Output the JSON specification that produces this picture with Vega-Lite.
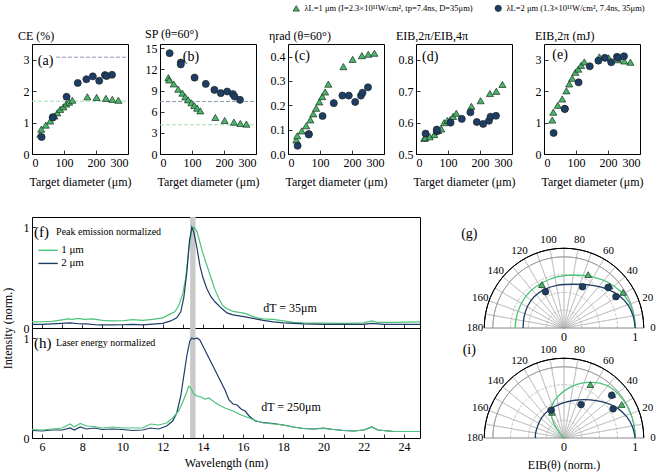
{
"$schema": "https://vega.github.io/schema/vega-lite/v6.json",
"padding": {"left": 0, "top": 4, "right": 0, "bottom": 0},
"config": {
  "font": "Liberation Serif",
  "view": {"stroke": "#000", "strokeWidth": 1},
  "axis": {"grid": false, "domain": false, "tickSize": -4, "tickColor": "#000", "tickWidth": 0.8, "labelFontSize": 12, "labelColor": "#000", "labelPadding": 7, "titleFontSize": 12, "titleFontWeight": "normal", "titleColor": "#000"},
  "title": {"fontSize": 12, "fontWeight": "normal", "color": "#000"}
},
"datasets": {
  "refs": [
    {"p": "a", "laser": "2 μm", "v": 3.08, "d0": 75, "d1": 300},
    {"p": "a", "laser": "1 μm", "v": 1.68, "d0": 0, "d1": 300},
    {"p": "b", "laser": "2 μm", "v": 7.44, "d0": 0, "d1": 300},
    {"p": "b", "laser": "1 μm", "v": 4.14, "d0": 0, "d1": 300}
  ],
  "a": [
    {"laser":"1 μm","d":26,"v":0.63},{"laser":"1 μm","d":29,"v":0.79},{"laser":"1 μm","d":43,"v":0.92},{"laser":"1 μm","d":57,"v":1.05},{"laser":"1 μm","d":70,"v":1.21},{"laser":"1 μm","d":79,"v":1.31},{"laser":"1 μm","d":88,"v":1.42},{"laser":"1 μm","d":98,"v":1.5},{"laser":"1 μm","d":107,"v":1.59},{"laser":"1 μm","d":116,"v":1.65},{"laser":"1 μm","d":126,"v":1.71},{"laser":"1 μm","d":173,"v":1.82},{"laser":"1 μm","d":202,"v":1.8},{"laser":"1 μm","d":231,"v":1.77},{"laser":"1 μm","d":251,"v":1.74},{"laser":"1 μm","d":270,"v":1.71},
    {"laser":"2 μm","d":30,"v":0.54},{"laser":"2 μm","d":65,"v":1.17},{"laser":"2 μm","d":65,"v":1.16},{"laser":"2 μm","d":108,"v":1.82},{"laser":"2 μm","d":143,"v":2.26},{"laser":"2 μm","d":170,"v":2.38},{"laser":"2 μm","d":190,"v":2.47},{"laser":"2 μm","d":210,"v":2.33},{"laser":"2 μm","d":228,"v":2.51},{"laser":"2 μm","d":233,"v":2.48},{"laser":"2 μm","d":250,"v":2.52}
  ],
  "b": [
    {"laser":"1 μm","d":26,"v":10.83},{"laser":"1 μm","d":29,"v":10.5},{"laser":"1 μm","d":43,"v":9.94},{"laser":"1 μm","d":57,"v":9.19},{"laser":"1 μm","d":70,"v":8.63},{"laser":"1 μm","d":79,"v":8.1},{"laser":"1 μm","d":88,"v":7.68},{"laser":"1 μm","d":98,"v":7.26},{"laser":"1 μm","d":107,"v":6.87},{"laser":"1 μm","d":116,"v":6.5},{"laser":"1 μm","d":126,"v":6.12},{"laser":"1 μm","d":173,"v":5.18},{"laser":"1 μm","d":202,"v":4.75},{"laser":"1 μm","d":231,"v":4.52},{"laser":"1 μm","d":251,"v":4.33},{"laser":"1 μm","d":270,"v":4.24},
    {"laser":"2 μm","d":30,"v":14.3},{"laser":"2 μm","d":65,"v":12.96},{"laser":"2 μm","d":65,"v":12.7},{"laser":"2 μm","d":108,"v":10.83},{"laser":"2 μm","d":143,"v":9.94},{"laser":"2 μm","d":170,"v":9.09},{"laser":"2 μm","d":190,"v":8.63},{"laser":"2 μm","d":210,"v":8.86},{"laser":"2 μm","d":228,"v":8.49},{"laser":"2 μm","d":233,"v":8.15},{"laser":"2 μm","d":250,"v":7.68}
  ],
  "c": [
    {"laser":"1 μm","d":26,"v":0.058},{"laser":"1 μm","d":29,"v":0.075},{"laser":"1 μm","d":43,"v":0.095},{"laser":"1 μm","d":57,"v":0.116},{"laser":"1 μm","d":70,"v":0.14},{"laser":"1 μm","d":79,"v":0.165},{"laser":"1 μm","d":88,"v":0.188},{"laser":"1 μm","d":98,"v":0.214},{"laser":"1 μm","d":107,"v":0.236},{"laser":"1 μm","d":116,"v":0.255},{"laser":"1 μm","d":126,"v":0.287},{"laser":"1 μm","d":173,"v":0.359},{"laser":"1 μm","d":202,"v":0.389},{"laser":"1 μm","d":231,"v":0.404},{"laser":"1 μm","d":251,"v":0.41},{"laser":"1 μm","d":270,"v":0.414},
    {"laser":"2 μm","d":30,"v":0.034},{"laser":"2 μm","d":65,"v":0.082},{"laser":"2 μm","d":65,"v":0.08},{"laser":"2 μm","d":108,"v":0.156},{"laser":"2 μm","d":143,"v":0.209},{"laser":"2 μm","d":170,"v":0.24},{"laser":"2 μm","d":190,"v":0.24},{"laser":"2 μm","d":210,"v":0.214},{"laser":"2 μm","d":228,"v":0.24},{"laser":"2 μm","d":233,"v":0.252},{"laser":"2 μm","d":250,"v":0.274}
  ],
  "d": [
    {"laser":"1 μm","d":26,"v":0.55},{"laser":"1 μm","d":29,"v":0.552},{"laser":"1 μm","d":43,"v":0.555},{"laser":"1 μm","d":57,"v":0.562},{"laser":"1 μm","d":70,"v":0.575},{"laser":"1 μm","d":79,"v":0.58},{"laser":"1 μm","d":88,"v":0.6},{"laser":"1 μm","d":98,"v":0.607},{"laser":"1 μm","d":107,"v":0.61},{"laser":"1 μm","d":116,"v":0.62},{"laser":"1 μm","d":126,"v":0.63},{"laser":"1 μm","d":173,"v":0.652},{"laser":"1 μm","d":202,"v":0.67},{"laser":"1 μm","d":231,"v":0.693},{"laser":"1 μm","d":251,"v":0.7},{"laser":"1 μm","d":270,"v":0.722},
    {"laser":"2 μm","d":30,"v":0.565},{"laser":"2 μm","d":65,"v":0.572},{"laser":"2 μm","d":65,"v":0.578},{"laser":"2 μm","d":108,"v":0.6},{"laser":"2 μm","d":143,"v":0.612},{"laser":"2 μm","d":170,"v":0.633},{"laser":"2 μm","d":190,"v":0.602},{"laser":"2 μm","d":210,"v":0.596},{"laser":"2 μm","d":228,"v":0.606},{"laser":"2 μm","d":233,"v":0.619},{"laser":"2 μm","d":250,"v":0.622}
  ],
  "e": [
    {"laser":"1 μm","d":26,"v":1.08},{"laser":"1 μm","d":29,"v":1.33},{"laser":"1 μm","d":43,"v":1.55},{"laser":"1 μm","d":57,"v":1.75},{"laser":"1 μm","d":70,"v":2.01},{"laser":"1 μm","d":79,"v":2.23},{"laser":"1 μm","d":88,"v":2.41},{"laser":"1 μm","d":98,"v":2.6},{"laser":"1 μm","d":107,"v":2.7},{"laser":"1 μm","d":116,"v":2.82},{"laser":"1 μm","d":126,"v":2.93},{"laser":"1 μm","d":173,"v":3.09},{"laser":"1 μm","d":202,"v":3.06},{"laser":"1 μm","d":231,"v":3.0},{"laser":"1 μm","d":251,"v":2.96},{"laser":"1 μm","d":270,"v":2.92},
    {"laser":"2 μm","d":30,"v":0.67},{"laser":"2 μm","d":65,"v":1.44},{"laser":"2 μm","d":65,"v":1.43},{"laser":"2 μm","d":108,"v":2.28},{"laser":"2 μm","d":143,"v":2.79},{"laser":"2 μm","d":170,"v":2.97},{"laser":"2 μm","d":190,"v":3.06},{"laser":"2 μm","d":210,"v":2.92},{"laser":"2 μm","d":228,"v":3.09},{"laser":"2 μm","d":233,"v":3.06},{"laser":"2 μm","d":250,"v":3.11}
  ],
  "f": [
    {"laser":"1 μm","w":5.5,"v":0.06},{"laser":"1 μm","w":6.0,"v":0.062},{"laser":"1 μm","w":6.5,"v":0.065},{"laser":"1 μm","w":7.0,"v":0.08},{"laser":"1 μm","w":7.3,"v":0.09},{"laser":"1 μm","w":7.5,"v":0.085},{"laser":"1 μm","w":7.8,"v":0.095},{"laser":"1 μm","w":8.1,"v":0.085},{"laser":"1 μm","w":8.5,"v":0.09},{"laser":"1 μm","w":9.0,"v":0.075},{"laser":"1 μm","w":9.5,"v":0.07},{"laser":"1 μm","w":10.0,"v":0.072},{"laser":"1 μm","w":10.5,"v":0.082},{"laser":"1 μm","w":11.0,"v":0.075},{"laser":"1 μm","w":11.5,"v":0.085},{"laser":"1 μm","w":12.0,"v":0.1},{"laser":"1 μm","w":12.3,"v":0.13},{"laser":"1 μm","w":12.6,"v":0.16},{"laser":"1 μm","w":12.8,"v":0.22},{"laser":"1 μm","w":13.0,"v":0.34},{"laser":"1 μm","w":13.15,"v":0.5},{"laser":"1 μm","w":13.3,"v":0.78},{"laser":"1 μm","w":13.45,"v":0.97},{"laser":"1 μm","w":13.55,"v":1.0},{"laser":"1 μm","w":13.7,"v":0.96},{"laser":"1 μm","w":13.85,"v":0.85},{"laser":"1 μm","w":14.0,"v":0.74},{"laser":"1 μm","w":14.2,"v":0.62},{"laser":"1 μm","w":14.4,"v":0.5},{"laser":"1 μm","w":14.6,"v":0.38},{"laser":"1 μm","w":14.8,"v":0.29},{"laser":"1 μm","w":15.0,"v":0.22},{"laser":"1 μm","w":15.2,"v":0.19},{"laser":"1 μm","w":15.5,"v":0.165},{"laser":"1 μm","w":15.8,"v":0.155},{"laser":"1 μm","w":16.1,"v":0.145},{"laser":"1 μm","w":16.4,"v":0.12},{"laser":"1 μm","w":16.7,"v":0.1},{"laser":"1 μm","w":17.0,"v":0.09},{"laser":"1 μm","w":17.5,"v":0.085},{"laser":"1 μm","w":18.0,"v":0.07},{"laser":"1 μm","w":18.5,"v":0.055},{"laser":"1 μm","w":19.0,"v":0.05},{"laser":"1 μm","w":20.0,"v":0.048},{"laser":"1 μm","w":21.0,"v":0.045},{"laser":"1 μm","w":22.0,"v":0.05},{"laser":"1 μm","w":22.4,"v":0.07},{"laser":"1 μm","w":22.7,"v":0.055},{"laser":"1 μm","w":23.5,"v":0.055},{"laser":"1 μm","w":24.8,"v":0.06},
    {"laser":"2 μm","w":5.5,"v":0.036},{"laser":"2 μm","w":6.0,"v":0.035},{"laser":"2 μm","w":6.5,"v":0.04},{"laser":"2 μm","w":7.0,"v":0.045},{"laser":"2 μm","w":7.4,"v":0.05},{"laser":"2 μm","w":7.8,"v":0.042},{"laser":"2 μm","w":8.2,"v":0.04},{"laser":"2 μm","w":8.8,"v":0.03},{"laser":"2 μm","w":9.5,"v":0.03},{"laser":"2 μm","w":10.0,"v":0.032},{"laser":"2 μm","w":10.5,"v":0.035},{"laser":"2 μm","w":11.0,"v":0.03},{"laser":"2 μm","w":11.5,"v":0.038},{"laser":"2 μm","w":12.0,"v":0.046},{"laser":"2 μm","w":12.4,"v":0.07},{"laser":"2 μm","w":12.7,"v":0.1},{"laser":"2 μm","w":12.9,"v":0.16},{"laser":"2 μm","w":13.05,"v":0.3},{"laser":"2 μm","w":13.2,"v":0.55},{"laser":"2 μm","w":13.33,"v":0.86},{"laser":"2 μm","w":13.45,"v":1.0},{"laser":"2 μm","w":13.55,"v":0.95},{"laser":"2 μm","w":13.7,"v":0.8},{"laser":"2 μm","w":13.85,"v":0.62},{"laser":"2 μm","w":14.0,"v":0.5},{"laser":"2 μm","w":14.2,"v":0.39},{"laser":"2 μm","w":14.4,"v":0.31},{"laser":"2 μm","w":14.6,"v":0.26},{"laser":"2 μm","w":14.9,"v":0.2},{"laser":"2 μm","w":15.2,"v":0.15},{"laser":"2 μm","w":15.5,"v":0.13},{"laser":"2 μm","w":15.8,"v":0.12},{"laser":"2 μm","w":16.1,"v":0.11},{"laser":"2 μm","w":16.5,"v":0.095},{"laser":"2 μm","w":17.0,"v":0.075},{"laser":"2 μm","w":17.5,"v":0.06},{"laser":"2 μm","w":18.0,"v":0.05},{"laser":"2 μm","w":19.0,"v":0.04},{"laser":"2 μm","w":20.0,"v":0.035},{"laser":"2 μm","w":21.0,"v":0.035},{"laser":"2 μm","w":22.0,"v":0.035},{"laser":"2 μm","w":22.4,"v":0.045},{"laser":"2 μm","w":23.0,"v":0.035},{"laser":"2 μm","w":24.8,"v":0.036}
  ],
  "h": [
    {"laser":"1 μm","w":5.5,"v":0.085},{"laser":"1 μm","w":6.0,"v":0.08},{"laser":"1 μm","w":6.5,"v":0.09},{"laser":"1 μm","w":7.0,"v":0.1},{"laser":"1 μm","w":7.4,"v":0.14},{"laser":"1 μm","w":7.6,"v":0.11},{"laser":"1 μm","w":7.9,"v":0.145},{"laser":"1 μm","w":8.2,"v":0.12},{"laser":"1 μm","w":8.6,"v":0.115},{"laser":"1 μm","w":9.0,"v":0.1},{"laser":"1 μm","w":9.5,"v":0.11},{"laser":"1 μm","w":10.0,"v":0.1},{"laser":"1 μm","w":10.5,"v":0.1},{"laser":"1 μm","w":11.0,"v":0.1},{"laser":"1 μm","w":11.4,"v":0.14},{"laser":"1 μm","w":11.8,"v":0.13},{"laser":"1 μm","w":12.2,"v":0.15},{"laser":"1 μm","w":12.5,"v":0.2},{"laser":"1 μm","w":12.8,"v":0.27},{"laser":"1 μm","w":13.0,"v":0.36},{"laser":"1 μm","w":13.2,"v":0.46},{"laser":"1 μm","w":13.3,"v":0.52},{"laser":"1 μm","w":13.4,"v":0.5},{"laser":"1 μm","w":13.55,"v":0.44},{"laser":"1 μm","w":13.7,"v":0.42},{"laser":"1 μm","w":13.9,"v":0.41},{"laser":"1 μm","w":14.1,"v":0.39},{"laser":"1 μm","w":14.3,"v":0.4},{"laser":"1 μm","w":14.5,"v":0.37},{"laser":"1 μm","w":14.8,"v":0.33},{"laser":"1 μm","w":15.1,"v":0.3},{"laser":"1 μm","w":15.5,"v":0.27},{"laser":"1 μm","w":15.9,"v":0.23},{"laser":"1 μm","w":16.3,"v":0.2},{"laser":"1 μm","w":16.7,"v":0.17},{"laser":"1 μm","w":17.0,"v":0.15},{"laser":"1 μm","w":17.5,"v":0.14},{"laser":"1 μm","w":18.0,"v":0.13},{"laser":"1 μm","w":18.5,"v":0.11},{"laser":"1 μm","w":19.0,"v":0.095},{"laser":"1 μm","w":19.5,"v":0.09},{"laser":"1 μm","w":20.0,"v":0.095},{"laser":"1 μm","w":20.5,"v":0.085},{"laser":"1 μm","w":21.0,"v":0.075},{"laser":"1 μm","w":21.5,"v":0.07},{"laser":"1 μm","w":22.0,"v":0.08},{"laser":"1 μm","w":22.4,"v":0.11},{"laser":"1 μm","w":22.7,"v":0.08},{"laser":"1 μm","w":23.5,"v":0.065},{"laser":"1 μm","w":24.8,"v":0.065},
    {"laser":"2 μm","w":5.5,"v":0.075},{"laser":"2 μm","w":6.0,"v":0.07},{"laser":"2 μm","w":6.5,"v":0.08},{"laser":"2 μm","w":7.0,"v":0.08},{"laser":"2 μm","w":7.4,"v":0.1},{"laser":"2 μm","w":7.6,"v":0.08},{"laser":"2 μm","w":7.9,"v":0.11},{"laser":"2 μm","w":8.2,"v":0.09},{"laser":"2 μm","w":8.6,"v":0.1},{"laser":"2 μm","w":9.0,"v":0.085},{"laser":"2 μm","w":9.5,"v":0.09},{"laser":"2 μm","w":10.0,"v":0.085},{"laser":"2 μm","w":10.5,"v":0.075},{"laser":"2 μm","w":11.0,"v":0.08},{"laser":"2 μm","w":11.4,"v":0.1},{"laser":"2 μm","w":11.8,"v":0.09},{"laser":"2 μm","w":12.2,"v":0.12},{"laser":"2 μm","w":12.5,"v":0.17},{"laser":"2 μm","w":12.7,"v":0.25},{"laser":"2 μm","w":12.9,"v":0.42},{"laser":"2 μm","w":13.05,"v":0.62},{"laser":"2 μm","w":13.2,"v":0.82},{"laser":"2 μm","w":13.35,"v":0.97},{"laser":"2 μm","w":13.45,"v":1.0},{"laser":"2 μm","w":13.55,"v":0.99},{"laser":"2 μm","w":13.7,"v":1.0},{"laser":"2 μm","w":13.85,"v":0.98},{"laser":"2 μm","w":14.0,"v":0.92},{"laser":"2 μm","w":14.2,"v":0.84},{"laser":"2 μm","w":14.5,"v":0.72},{"laser":"2 μm","w":14.8,"v":0.6},{"laser":"2 μm","w":15.1,"v":0.48},{"laser":"2 μm","w":15.3,"v":0.38},{"laser":"2 μm","w":15.5,"v":0.34},{"laser":"2 μm","w":15.7,"v":0.33},{"laser":"2 μm","w":15.9,"v":0.29},{"laser":"2 μm","w":16.1,"v":0.27},{"laser":"2 μm","w":16.3,"v":0.22},{"laser":"2 μm","w":16.6,"v":0.17},{"laser":"2 μm","w":17.0,"v":0.155},{"laser":"2 μm","w":17.5,"v":0.145},{"laser":"2 μm","w":18.0,"v":0.13},{"laser":"2 μm","w":18.5,"v":0.11},{"laser":"2 μm","w":19.0,"v":0.095},{"laser":"2 μm","w":19.5,"v":0.09},{"laser":"2 μm","w":20.0,"v":0.1},{"laser":"2 μm","w":20.5,"v":0.085},{"laser":"2 μm","w":21.0,"v":0.075},{"laser":"2 μm","w":21.5,"v":0.07},{"laser":"2 μm","w":22.0,"v":0.08},{"laser":"2 μm","w":22.4,"v":0.11},{"laser":"2 μm","w":22.7,"v":0.08},{"laser":"2 μm","w":23.5,"v":0.065},{"laser":"2 μm","w":24.8,"v":0.065}
  ],
  "band": [{"w0": 13.365, "w1": 13.635}],
  "speclegend": [{"laser": "1 μm", "y": 0.77}, {"laser": "2 μm", "y": 0.64}],
  "spokes": [{"ang":10},{"ang":20},{"ang":30},{"ang":40},{"ang":50},{"ang":60},{"ang":70},{"ang":80},{"ang":90},{"ang":100},{"ang":110},{"ang":120},{"ang":130},{"ang":140},{"ang":150},{"ang":160},{"ang":170}],
  "rings": [{"r":0.25},{"r":0.5},{"r":0.75}],
  "anglabels": [{"ang":0,"t":"0"},{"ang":20,"t":"20"},{"ang":40,"t":"40"},{"ang":60,"t":"60"},{"ang":80,"t":"80"},{"ang":100,"t":"100"},{"ang":120,"t":"120"},{"ang":140,"t":"140"},{"ang":160,"t":"160"},{"ang":180,"t":"180"}],
  "radlabels": [{"x":0,"t":"0"},{"x":1,"t":"1"}],
  "gp": [
    {"laser":"1 μm","x":-0.31,"y":0.61},{"laser":"1 μm","x":0.34,"y":0.75},{"laser":"1 μm","x":0.64,"y":0.59},{"laser":"1 μm","x":0.83,"y":0.5},
    {"laser":"2 μm","x":-0.26,"y":0.51},{"laser":"2 μm","x":0.26,"y":0.58},{"laser":"2 μm","x":0.62,"y":0.57},{"laser":"2 μm","x":0.73,"y":0.44}
  ],
  "gc": [
    {"laser":"1 μm","i":0,"x":1,"y":0},{"laser":"1 μm","i":1,"x":0.98,"y":0.18},{"laser":"1 μm","i":2,"x":0.92,"y":0.35},{"laser":"1 μm","i":3,"x":0.8,"y":0.51},{"laser":"1 μm","i":4,"x":0.62,"y":0.64},{"laser":"1 μm","i":5,"x":0.4,"y":0.72},{"laser":"1 μm","i":6,"x":0.15,"y":0.745},{"laser":"1 μm","i":7,"x":-0.1,"y":0.72},{"laser":"1 μm","i":8,"x":-0.3,"y":0.64},{"laser":"1 μm","i":9,"x":-0.47,"y":0.52},{"laser":"1 μm","i":10,"x":-0.58,"y":0.38},{"laser":"1 μm","i":11,"x":-0.65,"y":0.22},{"laser":"1 μm","i":12,"x":-0.68,"y":0.08},{"laser":"1 μm","i":13,"x":-0.685,"y":0},
    {"laser":"2 μm","i":0,"x":1,"y":0},{"laser":"2 μm","i":1,"x":0.97,"y":0.17},{"laser":"2 μm","i":2,"x":0.9,"y":0.32},{"laser":"2 μm","i":3,"x":0.78,"y":0.45},{"laser":"2 μm","i":4,"x":0.6,"y":0.55},{"laser":"2 μm","i":5,"x":0.4,"y":0.6},{"laser":"2 μm","i":6,"x":0.15,"y":0.615},{"laser":"2 μm","i":7,"x":-0.1,"y":0.6},{"laser":"2 μm","i":8,"x":-0.28,"y":0.54},{"laser":"2 μm","i":9,"x":-0.42,"y":0.44},{"laser":"2 μm","i":10,"x":-0.51,"y":0.31},{"laser":"2 μm","i":11,"x":-0.56,"y":0.16},{"laser":"2 μm","i":12,"x":-0.575,"y":0}
  ],
  "ip": [
    {"laser":"1 μm","x":-0.17,"y":0.36},{"laser":"1 μm","x":0.37,"y":0.75},{"laser":"1 μm","x":0.68,"y":0.61},{"laser":"1 μm","x":0.81,"y":0.47},
    {"laser":"2 μm","x":-0.18,"y":0.39},{"laser":"2 μm","x":0.24,"y":0.47},{"laser":"2 μm","x":0.67,"y":0.6},{"laser":"2 μm","x":0.69,"y":0.41}
  ],
  "ic": [
    {"laser":"1 μm","i":0,"x":1,"y":0},{"laser":"1 μm","i":1,"x":0.98,"y":0.2},{"laser":"1 μm","i":2,"x":0.92,"y":0.38},{"laser":"1 μm","i":3,"x":0.82,"y":0.55},{"laser":"1 μm","i":4,"x":0.67,"y":0.7},{"laser":"1 μm","i":5,"x":0.5,"y":0.77},{"laser":"1 μm","i":6,"x":0.33,"y":0.78},{"laser":"1 μm","i":7,"x":0.17,"y":0.75},{"laser":"1 μm","i":8,"x":0.03,"y":0.68},{"laser":"1 μm","i":9,"x":-0.08,"y":0.59},{"laser":"1 μm","i":10,"x":-0.15,"y":0.5},{"laser":"1 μm","i":11,"x":-0.18,"y":0.4},{"laser":"1 μm","i":12,"x":-0.17,"y":0.28},{"laser":"1 μm","i":13,"x":-0.12,"y":0.16},{"laser":"1 μm","i":14,"x":-0.06,"y":0.07},{"laser":"1 μm","i":15,"x":0,"y":0},
    {"laser":"2 μm","i":0,"x":1,"y":0},{"laser":"2 μm","i":1,"x":0.96,"y":0.16},{"laser":"2 μm","i":2,"x":0.88,"y":0.3},{"laser":"2 μm","i":3,"x":0.75,"y":0.42},{"laser":"2 μm","i":4,"x":0.57,"y":0.5},{"laser":"2 μm","i":5,"x":0.37,"y":0.535},{"laser":"2 μm","i":6,"x":0.15,"y":0.53},{"laser":"2 μm","i":7,"x":-0.05,"y":0.48},{"laser":"2 μm","i":8,"x":-0.2,"y":0.4},{"laser":"2 μm","i":9,"x":-0.31,"y":0.29},{"laser":"2 μm","i":10,"x":-0.37,"y":0.17},{"laser":"2 μm","i":11,"x":-0.4,"y":0.06},{"laser":"2 μm","i":12,"x":-0.4,"y":0}
  ]
},
"spacing": 28,
"vconcat": [
  {"hconcat": [
    {"width": 96, "height": 110,
     "title": {"text": "CE (%)", "anchor": "start", "frame": "group", "dx": -14, "offset": 1},
     "encoding": {
       "x": {"type": "quantitative", "scale": {"domain": [0, 300], "nice": false}, "axis": {"values": [0, 100, 200, 300], "title": "Target diameter (μm)", "titlePadding": 8}},
       "y": {"type": "quantitative", "scale": {"domain": [0, 3.5], "nice": false, "zero": false}, "axis": {"values": [0, 1, 2, 3], "title": " ", "titleX": -25, "titleY": 55, "titleAngle": -90, "titleBaseline": "middle", "titleAlign": "center"}}
     },
     "layer": [
      {"data": {"name": "refs"}, "transform": [{"filter": "datum.p == 'a' && datum.laser == '2 μm'"}],
       "mark": {"type": "rule", "strokeDash": [4, 2], "strokeWidth": 1, "color": "#8e9ab0"},
       "encoding": {"x": {"field": "d0"}, "x2": {"field": "d1"}, "y": {"field": "v"}}},
      {"data": {"name": "refs"}, "transform": [{"filter": "datum.p == 'a' && datum.laser == '1 μm'"}],
       "mark": {"type": "rule", "strokeDash": [4, 2], "strokeWidth": 1, "color": "#9edcb0"},
       "encoding": {"x": {"field": "d0"}, "x2": {"field": "d1"}, "y": {"field": "v"}}},
      {"data": {"name": "a"},
       "mark": {"type": "point", "filled": true, "size": 50, "opacity": 1, "stroke": "#1c2b22", "strokeWidth": 0.7},
       "encoding": {
        "x": {"field": "d"},
        "y": {"field": "v"},
        "color": {"field": "laser", "type": "nominal", "scale": {"domain": ["1 μm", "2 μm"], "range": ["#47b868", "#1f3c66"]},
          "legend": {"orient": "none", "legendX": 260, "legendY": -40, "direction": "horizontal", "title": null, "labelFontSize": 8.5, "labelLimit": 400, "symbolSize": 40, "symbolStrokeColor": "#1c2b22", "symbolStrokeWidth": 0.7, "columnPadding": 20, "labelExpr": "datum.label == '1 μm' ? 'λL=1 μm (I=2.3×10¹¹W/cm², tp=7.4ns, D=35μm)' : 'λL=2 μm (1.3×10¹¹W/cm², 7.4ns, 35μm)'"}},
        "shape": {"field": "laser", "type": "nominal", "scale": {"domain": ["1 μm", "2 μm"], "range": ["triangle-up", "circle"]},
          "legend": {"orient": "none", "legendX": 260, "legendY": -40, "direction": "horizontal", "title": null, "labelFontSize": 8.5, "labelLimit": 400, "symbolSize": 40, "symbolStrokeColor": "#1c2b22", "symbolStrokeWidth": 0.7, "columnPadding": 20, "labelExpr": "datum.label == '1 μm' ? 'λL=1 μm (I=2.3×10¹¹W/cm², tp=7.4ns, D=35μm)' : 'λL=2 μm (1.3×10¹¹W/cm², 7.4ns, 35μm)'"}}}},
      {"data": {"values": [{"t": "(a)"}]}, "mark": {"type": "text", "fontSize": 14, "align": "left", "baseline": "middle"},
       "encoding": {"x": {"datum": 18}, "y": {"datum": 2.97}, "text": {"field": "t"}}}
     ]},
    {"width": 96, "height": 110,
     "title": {"text": "SP (θ=60°)", "anchor": "start", "frame": "group", "dx": -15, "offset": 1},
     "encoding": {
       "x": {"type": "quantitative", "scale": {"domain": [0, 300], "nice": false}, "axis": {"values": [0, 100, 200, 300], "title": "Target diameter (μm)", "titlePadding": 8}},
       "y": {"type": "quantitative", "scale": {"domain": [0, 15.6], "nice": false, "zero": false}, "axis": {"values": [0, 3, 6, 9, 12, 15], "title": null}}
     },
     "layer": [
      {"data": {"name": "refs"}, "transform": [{"filter": "datum.p == 'b' && datum.laser == '2 μm'"}],
       "mark": {"type": "rule", "strokeDash": [4, 2], "strokeWidth": 1, "color": "#8e9ab0"},
       "encoding": {"x": {"field": "d0"}, "x2": {"field": "d1"}, "y": {"field": "v"}}},
      {"data": {"name": "refs"}, "transform": [{"filter": "datum.p == 'b' && datum.laser == '1 μm'"}],
       "mark": {"type": "rule", "strokeDash": [4, 2], "strokeWidth": 1, "color": "#9edcb0"},
       "encoding": {"x": {"field": "d0"}, "x2": {"field": "d1"}, "y": {"field": "v"}}},
      {"data": {"name": "b"},
       "mark": {"type": "point", "filled": true, "size": 50, "opacity": 1, "stroke": "#1c2b22", "strokeWidth": 0.7},
       "encoding": {"x": {"field": "d"}, "y": {"field": "v"}, "color": {"field": "laser", "type": "nominal"}, "shape": {"field": "laser", "type": "nominal"}}},
      {"data": {"values": [{"t": "(b)"}]}, "mark": {"type": "text", "fontSize": 14, "align": "left", "baseline": "middle"},
       "encoding": {"x": {"datum": 71}, "y": {"datum": 13.8}, "text": {"field": "t"}}}
     ]},
    {"width": 96, "height": 110,
     "title": {"text": "ηrad (θ=60°)", "anchor": "start", "frame": "group", "dx": -19, "offset": 1},
     "encoding": {
       "x": {"type": "quantitative", "scale": {"domain": [0, 300], "nice": false}, "axis": {"values": [0, 100, 200, 300], "title": "Target diameter (μm)", "titlePadding": 8}},
       "y": {"type": "quantitative", "scale": {"domain": [0, 0.452], "nice": false, "zero": false}, "axis": {"values": [0, 0.1, 0.2, 0.3, 0.4], "format": ".1f", "title": null}}
     },
     "layer": [
      {"data": {"name": "c"},
       "mark": {"type": "point", "filled": true, "size": 50, "opacity": 1, "stroke": "#1c2b22", "strokeWidth": 0.7},
       "encoding": {"x": {"field": "d"}, "y": {"field": "v"}, "color": {"field": "laser", "type": "nominal"}, "shape": {"field": "laser", "type": "nominal"}}},
      {"data": {"values": [{"t": "(c)"}]}, "mark": {"type": "text", "fontSize": 14, "align": "left", "baseline": "middle"},
       "encoding": {"x": {"datum": 20}, "y": {"datum": 0.403}, "text": {"field": "t"}}}
     ]},
    {"width": 96, "height": 110,
     "title": {"text": "EIB,2π/EIB,4π", "anchor": "start", "frame": "group", "dx": -20, "offset": 1},
     "encoding": {
       "x": {"type": "quantitative", "scale": {"domain": [0, 300], "nice": false}, "axis": {"values": [0, 100, 200, 300], "title": "Target diameter (μm)", "titlePadding": 8}},
       "y": {"type": "quantitative", "scale": {"domain": [0.5, 0.851], "nice": false, "zero": false}, "axis": {"values": [0.5, 0.6, 0.7, 0.8], "format": ".1f", "title": null}}
     },
     "layer": [
      {"data": {"name": "d"},
       "mark": {"type": "point", "filled": true, "size": 50, "opacity": 1, "stroke": "#1c2b22", "strokeWidth": 0.7},
       "encoding": {"x": {"field": "d"}, "y": {"field": "v"}, "color": {"field": "laser", "type": "nominal"}, "shape": {"field": "laser", "type": "nominal"}}},
      {"data": {"values": [{"t": "(d)"}]}, "mark": {"type": "text", "fontSize": 14, "align": "left", "baseline": "middle"},
       "encoding": {"x": {"datum": 19}, "y": {"datum": 0.811}, "text": {"field": "t"}}}
     ]},
    {"width": 96, "height": 110,
     "title": {"text": "EIB,2π (mJ)", "anchor": "start", "frame": "group", "dx": -9, "offset": 1},
     "encoding": {
       "x": {"type": "quantitative", "scale": {"domain": [0, 300], "nice": false}, "axis": {"values": [0, 100, 200, 300], "title": "Target diameter (μm)", "titlePadding": 8}},
       "y": {"type": "quantitative", "scale": {"domain": [0, 3.5], "nice": false, "zero": false}, "axis": {"values": [0, 1, 2, 3], "title": null}}
     },
     "layer": [
      {"data": {"name": "e"},
       "mark": {"type": "point", "filled": true, "size": 50, "opacity": 1, "stroke": "#1c2b22", "strokeWidth": 0.7},
       "encoding": {"x": {"field": "d"}, "y": {"field": "v"}, "color": {"field": "laser", "type": "nominal"}, "shape": {"field": "laser", "type": "nominal"}}},
      {"data": {"values": [{"t": "(e)"}]}, "mark": {"type": "text", "fontSize": 14, "align": "left", "baseline": "middle"},
       "encoding": {"x": {"datum": 26}, "y": {"datum": 3.14}, "text": {"field": "t"}}}
     ]}
  ], "spacing": 32, "bounds": "flush"},
  {"hconcat": [
    {"vconcat": [
      {"width": 388, "height": 111,
       "encoding": {
         "x": {"type": "quantitative", "scale": {"domain": [5.5, 24.8], "nice": false, "zero": false}, "axis": {"values": [6,7,8,9,10,11,12,13,14,15,16,17,18,19,20,21,22,23,24], "labels": false, "title": null}},
         "y": {"type": "quantitative", "scale": {"domain": [0, 1.1], "nice": false}, "axis": {"values": [0, 0.2, 0.4, 0.6, 0.8, 1], "format": "d", "labelExpr": "datum.value == 0 || datum.value == 1 ? datum.label : ''", "title": "Intensity (norm.)", "titleX": -25, "titleY": 111, "titleAlign": "center", "titleBaseline": "middle", "titleAngle": -90}}
       },
       "layer": [
        {"data": {"name": "band"}, "mark": {"type": "rect", "color": "#c9c9c9"},
         "encoding": {"x": {"field": "w0"}, "x2": {"field": "w1"}, "y": {"datum": 0}, "y2": {"datum": 1.1}}},
        {"data": {"name": "f"}, "transform": [{"filter": "datum.laser == '1 μm'"}], "mark": {"type": "line", "strokeWidth": 1.2, "color": "#4cc47a"},
         "encoding": {"x": {"field": "w"}, "y": {"field": "v"}}},
        {"data": {"name": "f"}, "transform": [{"filter": "datum.laser == '2 μm'"}], "mark": {"type": "line", "strokeWidth": 1.2, "color": "#1f3c66"},
         "encoding": {"x": {"field": "w"}, "y": {"field": "v"}}},
        {"data": {"name": "speclegend"}, "transform": [{"filter": "datum.laser == '1 μm'"}], "mark": {"type": "rule", "strokeWidth": 1.4, "color": "#4cc47a"},
         "encoding": {"x": {"datum": 5.82}, "x2": {"datum": 6.78}, "y": {"field": "y"}}},
        {"data": {"name": "speclegend"}, "transform": [{"filter": "datum.laser == '2 μm'"}], "mark": {"type": "rule", "strokeWidth": 1.4, "color": "#1f3c66"},
         "encoding": {"x": {"datum": 5.82}, "x2": {"datum": 6.78}, "y": {"field": "y"}}},
        {"data": {"name": "speclegend"}, "mark": {"type": "text", "fontSize": 11, "align": "left", "baseline": "middle"},
         "encoding": {"x": {"datum": 6.95}, "y": {"field": "y"}, "text": {"field": "laser"}}},
        {"data": {"values": [{"t": "(f)"}]}, "mark": {"type": "text", "fontSize": 15, "align": "left", "baseline": "middle"},
         "encoding": {"x": {"datum": 5.6}, "y": {"datum": 0.95}, "text": {"field": "t"}}},
        {"data": {"values": [{"t": "Peak emission normalized"}]}, "mark": {"type": "text", "fontSize": 10, "align": "left", "baseline": "middle"},
         "encoding": {"x": {"datum": 6.7}, "y": {"datum": 0.95}, "text": {"field": "t"}}},
        {"data": {"values": [{"t": "dT = 35μm"}]}, "mark": {"type": "text", "fontSize": 12, "align": "left", "baseline": "middle"},
         "encoding": {"x": {"datum": 17.0}, "y": {"datum": 0.2}, "text": {"field": "t"}}}
       ]},
      {"width": 388, "height": 110,
       "encoding": {
         "x": {"type": "quantitative", "scale": {"domain": [5.5, 24.8], "nice": false, "zero": false}, "axis": {"values": [6,7,8,9,10,11,12,13,14,15,16,17,18,19,20,21,22,23,24], "labelExpr": "datum.value % 2 == 0 ? datum.label : ''", "title": "Wavelength (nm)", "titlePadding": 5}},
         "y": {"type": "quantitative", "scale": {"domain": [0, 1.1], "nice": false}, "axis": {"values": [0, 0.2, 0.4, 0.6, 0.8, 1], "format": "d", "labelExpr": "datum.value == 0 || datum.value == 1 ? datum.label : ''", "title": null}}
       },
       "layer": [
        {"data": {"name": "band"}, "mark": {"type": "rect", "color": "#c9c9c9"},
         "encoding": {"x": {"field": "w0"}, "x2": {"field": "w1"}, "y": {"datum": 0}, "y2": {"datum": 1.1}}},
        {"data": {"name": "h"}, "transform": [{"filter": "datum.laser == '2 μm'"}], "mark": {"type": "line", "strokeWidth": 1.2, "color": "#1f3c66"},
         "encoding": {"x": {"field": "w"}, "y": {"field": "v"}}},
        {"data": {"name": "h"}, "transform": [{"filter": "datum.laser == '1 μm'"}], "mark": {"type": "line", "strokeWidth": 1.2, "color": "#4cc47a"},
         "encoding": {"x": {"field": "w"}, "y": {"field": "v"}}},
        {"data": {"values": [{"t": "(h)"}]}, "mark": {"type": "text", "fontSize": 15, "align": "left", "baseline": "middle"},
         "encoding": {"x": {"datum": 5.6}, "y": {"datum": 0.955}, "text": {"field": "t"}}},
        {"data": {"values": [{"t": "Laser energy normalized"}]}, "mark": {"type": "text", "fontSize": 10, "align": "left", "baseline": "middle"},
         "encoding": {"x": {"datum": 6.7}, "y": {"datum": 0.955}, "text": {"field": "t"}}},
        {"data": {"values": [{"t": "dT = 250μm"}]}, "mark": {"type": "text", "fontSize": 12, "align": "left", "baseline": "middle"},
         "encoding": {"x": {"datum": 16.9}, "y": {"datum": 0.307}, "text": {"field": "t"}}}
       ]}
    ], "spacing": 0, "bounds": "flush"},
    {"vconcat": [
      {"width": 178, "height": 111, "view": {"stroke": null},
       "layer": [
        {"data": {"name": "spokes"}, "mark": {"type": "arc", "stroke": "#b5b5b5", "strokeWidth": 0.6, "fill": null},
         "encoding": {
          "x": {"datum": 0, "type": "quantitative", "scale": {"domain": [-1.25, 1.25], "nice": false, "zero": false}, "axis": null},
          "y": {"datum": 0, "type": "quantitative", "scale": {"domain": [0, 1.56], "nice": false, "zero": false}, "axis": null},
          "theta": {"field": "ang", "type": "quantitative", "stack": null, "scale": {"domain": [0, 180], "range": [1.5708, -1.5708]}},
          "theta2": {"field": "ang"},
          "radius": {"datum": 1.12, "type": "quantitative", "scale": {"type": "linear", "domain": [0, 1], "range": [0, 71.2], "zero": true}}}},
        {"data": {"name": "rings"}, "mark": {"type": "arc", "stroke": "#b5b5b5", "strokeWidth": 0.6, "strokeDash": [2, 2], "fill": null},
         "encoding": {"x": {"datum": 0, "axis": null}, "y": {"datum": 0, "axis": null}, "theta": {"datum": 0, "type": "quantitative"}, "theta2": {"datum": 180}, "radius": {"field": "r", "type": "quantitative"}, "radius2": {"field": "r"}}},
        {"data": {"values": [{"r": 1}]}, "mark": {"type": "arc", "stroke": "#9a9a9a", "strokeWidth": 0.8, "fill": null},
         "encoding": {"x": {"datum": 0, "axis": null}, "y": {"datum": 0, "axis": null}, "theta": {"datum": 0, "type": "quantitative"}, "theta2": {"datum": 180}, "radius": {"field": "r", "type": "quantitative"}, "radius2": {"field": "r"}}},
        {"data": {"values": [{"r": 1.12}]}, "mark": {"type": "arc", "stroke": "#000", "strokeWidth": 1, "fill": null},
         "encoding": {"x": {"datum": 0, "axis": null}, "y": {"datum": 0, "axis": null}, "theta": {"datum": 0, "type": "quantitative"}, "theta2": {"datum": 180}, "radius": {"field": "r", "type": "quantitative"}, "radius2": {"field": "r"}}},
        {"data": {"values": [{"x0": -1.12, "x1": 1.12, "y": 0}]}, "mark": {"type": "rule", "stroke": "#888", "strokeWidth": 1},
         "encoding": {"x": {"field": "x0", "type": "quantitative", "axis": null}, "x2": {"field": "x1"}, "y": {"field": "y", "type": "quantitative", "axis": null}}},
        {"data": {"name": "gc"}, "transform": [{"filter": "datum.laser == '1 μm'"}], "mark": {"type": "line", "strokeWidth": 1.3, "interpolate": "cardinal", "color": "#4cc47a"},
         "encoding": {"x": {"field": "x", "type": "quantitative", "axis": null}, "y": {"field": "y", "type": "quantitative", "axis": null}, "order": {"field": "i"}}},
        {"data": {"name": "gc"}, "transform": [{"filter": "datum.laser == '2 μm'"}], "mark": {"type": "line", "strokeWidth": 1.3, "interpolate": "cardinal", "color": "#1f3c66"},
         "encoding": {"x": {"field": "x", "type": "quantitative", "axis": null}, "y": {"field": "y", "type": "quantitative", "axis": null}, "order": {"field": "i"}}},
        {"data": {"name": "gp"}, "mark": {"type": "point", "filled": true, "size": 45, "opacity": 1, "stroke": "#1c2b22", "strokeWidth": 0.7},
         "encoding": {"x": {"field": "x", "type": "quantitative", "axis": null}, "y": {"field": "y", "type": "quantitative", "axis": null}, "color": {"field": "laser", "type": "nominal"}, "shape": {"field": "laser", "type": "nominal"}}},
        {"data": {"name": "anglabels"}, "mark": {"type": "text", "fontSize": 11, "align": "center", "baseline": "middle"},
         "encoding": {"x": {"datum": 0, "axis": null}, "y": {"datum": 0, "axis": null}, "theta": {"field": "ang", "type": "quantitative", "stack": null}, "radius": {"datum": 1.25}, "text": {"field": "t"}}},
        {"data": {"name": "radlabels"}, "mark": {"type": "text", "fontSize": 12, "align": "center", "baseline": "middle"},
         "encoding": {"x": {"field": "x", "type": "quantitative", "axis": null}, "y": {"datum": -0.13, "axis": null}, "text": {"field": "t"}}},
        {"data": {"values": [{"t": "(g)"}]}, "mark": {"type": "text", "fontSize": 14, "align": "center", "baseline": "middle"},
         "encoding": {"x": {"datum": -1.33, "axis": null}, "y": {"datum": 1.32, "axis": null}, "text": {"field": "t"}}}
       ]},
      {"width": 178, "height": 110, "view": {"stroke": null},
       "layer": [
        {"data": {"name": "spokes"}, "mark": {"type": "arc", "stroke": "#b5b5b5", "strokeWidth": 0.6, "fill": null},
         "encoding": {
          "x": {"datum": 0, "type": "quantitative", "scale": {"domain": [-1.25, 1.25], "nice": false, "zero": false}, "axis": null},
          "y": {"datum": 0, "type": "quantitative", "scale": {"domain": [0, 1.545], "nice": false, "zero": false}, "axis": null},
          "theta": {"field": "ang", "type": "quantitative", "stack": null, "scale": {"domain": [0, 180], "range": [1.5708, -1.5708]}},
          "theta2": {"field": "ang"},
          "radius": {"datum": 1.12, "type": "quantitative", "scale": {"type": "linear", "domain": [0, 1], "range": [0, 71.2], "zero": true}}}},
        {"data": {"name": "rings"}, "mark": {"type": "arc", "stroke": "#b5b5b5", "strokeWidth": 0.6, "strokeDash": [2, 2], "fill": null},
         "encoding": {"x": {"datum": 0, "axis": null}, "y": {"datum": 0, "axis": null}, "theta": {"datum": 0, "type": "quantitative"}, "theta2": {"datum": 180}, "radius": {"field": "r", "type": "quantitative"}, "radius2": {"field": "r"}}},
        {"data": {"values": [{"r": 1}]}, "mark": {"type": "arc", "stroke": "#9a9a9a", "strokeWidth": 0.8, "fill": null},
         "encoding": {"x": {"datum": 0, "axis": null}, "y": {"datum": 0, "axis": null}, "theta": {"datum": 0, "type": "quantitative"}, "theta2": {"datum": 180}, "radius": {"field": "r", "type": "quantitative"}, "radius2": {"field": "r"}}},
        {"data": {"values": [{"r": 1.12}]}, "mark": {"type": "arc", "stroke": "#000", "strokeWidth": 1, "fill": null},
         "encoding": {"x": {"datum": 0, "axis": null}, "y": {"datum": 0, "axis": null}, "theta": {"datum": 0, "type": "quantitative"}, "theta2": {"datum": 180}, "radius": {"field": "r", "type": "quantitative"}, "radius2": {"field": "r"}}},
        {"data": {"values": [{"x0": -1.12, "x1": 1.12, "y": 0}]}, "mark": {"type": "rule", "stroke": "#888", "strokeWidth": 1},
         "encoding": {"x": {"field": "x0", "type": "quantitative", "axis": null}, "x2": {"field": "x1"}, "y": {"field": "y", "type": "quantitative", "axis": null}}},
        {"data": {"name": "ic"}, "transform": [{"filter": "datum.laser == '1 μm'"}], "mark": {"type": "line", "strokeWidth": 1.3, "interpolate": "cardinal", "color": "#4cc47a"},
         "encoding": {"x": {"field": "x", "type": "quantitative", "axis": null}, "y": {"field": "y", "type": "quantitative", "axis": null}, "order": {"field": "i"}}},
        {"data": {"name": "ic"}, "transform": [{"filter": "datum.laser == '2 μm'"}], "mark": {"type": "line", "strokeWidth": 1.3, "interpolate": "cardinal", "color": "#1f3c66"},
         "encoding": {"x": {"field": "x", "type": "quantitative", "axis": null}, "y": {"field": "y", "type": "quantitative", "axis": null}, "order": {"field": "i"}}},
        {"data": {"name": "ip"}, "mark": {"type": "point", "filled": true, "size": 45, "opacity": 1, "stroke": "#1c2b22", "strokeWidth": 0.7},
         "encoding": {"x": {"field": "x", "type": "quantitative", "axis": null}, "y": {"field": "y", "type": "quantitative", "axis": null}, "color": {"field": "laser", "type": "nominal"}, "shape": {"field": "laser", "type": "nominal"}}},
        {"data": {"name": "anglabels"}, "mark": {"type": "text", "fontSize": 11, "align": "center", "baseline": "middle"},
         "encoding": {"x": {"datum": 0, "axis": null}, "y": {"datum": 0, "axis": null}, "theta": {"field": "ang", "type": "quantitative", "stack": null}, "radius": {"datum": 1.25}, "text": {"field": "t"}}},
        {"data": {"name": "radlabels"}, "mark": {"type": "text", "fontSize": 12, "align": "center", "baseline": "middle"},
         "encoding": {"x": {"field": "x", "type": "quantitative", "axis": null}, "y": {"datum": -0.13, "axis": null}, "text": {"field": "t"}}},
        {"data": {"values": [{"t": "(i)"}]}, "mark": {"type": "text", "fontSize": 14, "align": "center", "baseline": "middle"},
         "encoding": {"x": {"datum": -1.33, "axis": null}, "y": {"datum": 1.24, "axis": null}, "text": {"field": "t"}}},
        {"data": {"values": [{"t": "EIB(θ)  (norm.)"}]}, "mark": {"type": "text", "fontSize": 12, "align": "center", "baseline": "middle"},
         "encoding": {"x": {"datum": 0, "axis": null}, "y": {"datum": -0.38, "axis": null}, "text": {"field": "t"}}}
       ]}
    ], "spacing": 0, "bounds": "flush"}
  ], "spacing": 38}
]
}
